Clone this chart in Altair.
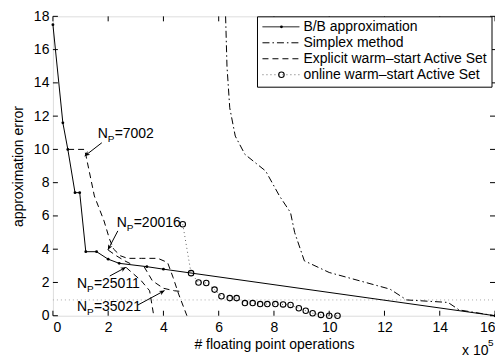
import math
import altair as alt
import pandas as pd

# ---------------- data ----------------
x_ticks = [0, 2, 4, 6, 8, 10, 12, 14, 16]
y_ticks = [0, 2, 4, 6, 8, 10, 12, 14, 16, 18]

series_names = [
    "B/B approximation",
    "Simplex method",
    "Explicit warm\u2013start Active Set",
    "online warm\u2013start Active Set",
]

bb_x = [0.0, 0.36, 0.54, 0.8, 0.97, 1.19, 1.58, 2.0, 2.4, 3.4, 4.0, 16.0]
bb_y = [17.5, 11.6, 10.0, 7.4, 7.4, 3.85, 3.85, 3.4, 3.15, 2.95, 2.8, 0.0]

simplex_x = [6.25, 6.3, 6.4, 6.6, 6.95, 7.7, 8.2, 8.6, 8.75, 9.1, 10.0, 11.1, 12.2, 12.8, 14.3, 14.7, 16.0]
simplex_y = [18.0, 15.0, 12.5, 10.8, 9.7, 8.7, 7.2, 6.2, 5.0, 3.3, 2.6, 2.1, 1.6, 0.95, 0.8, 0.35, 0.0]

exp_a_x = [0.55, 1.15, 1.5, 1.85, 2.05, 2.2, 2.45, 2.7, 3.2, 3.8, 4.15, 4.35, 4.55, 4.85]
exp_a_y = [10.0, 10.0, 7.2, 5.7, 4.6, 4.0, 3.6, 3.45, 3.45, 3.45, 3.2, 2.3, 1.3, 0.0]
exp_b_x = [2.0, 2.3, 2.6, 2.9]
exp_b_y = [3.95, 3.6, 3.3, 3.05]
exp_c_x = [2.65, 3.2, 3.5, 3.6, 3.65]
exp_c_y = [2.9, 2.1, 1.5, 0.5, 0.0]
exp_d_x = [3.3, 3.6, 4.0, 4.4, 4.7]
exp_d_y = [2.95, 2.1, 1.65, 1.5, 1.45]

online_x = [4.7, 5.0, 5.27, 5.55, 5.85, 6.1, 6.4, 6.65, 6.95, 7.23, 7.5, 7.76, 8.05, 8.33,
            8.6, 8.9, 9.15, 9.4, 9.7, 10.0, 10.3]
online_y = [5.5, 2.56, 2.0, 1.97, 1.57, 1.17, 1.06, 1.06, 0.76, 0.76, 0.7, 0.7, 0.7, 0.68,
            0.65, 0.45, 0.3, 0.15, 0.05, 0.0, 0.0]

threshold = 0.95

np_labels = ["=7002", "=20016", "=25011", "=35021"]
np_label_x = [1.62, 2.31, 0.87, 0.87]
np_label_y = [10.9, 5.6, 1.93, 0.53]
arrow_tail_x = [1.77, 2.35, 2.06, 3.07]
arrow_tail_y = [10.4, 5.1, 2.39, 0.64]
arrow_tip_x = [1.15, 1.99, 2.64, 4.04]
arrow_tip_y = [9.6, 3.96, 2.91, 1.51]

# ---------------- layout ----------------
W, H = 443, 300
PAD_TOP = 8
X_MAX, Y_MAX = 16, 18
SX = W / X_MAX
SY = H / Y_MAX
FONT = "Liberation Sans"
FS = 14

xs = alt.Scale(domain=[0, X_MAX], nice=False, zero=False)
ys = alt.Scale(domain=[0, Y_MAX], nice=False, zero=False)

x_axis = alt.Axis(
    values=x_ticks, title="# floating point operations", format="d",
    tickSize=0, domain=False, grid=False, labelPadding=5, titlePadding=3,
    labelFont=FONT, labelFontSize=FS, titleFont=FONT, titleFontSize=FS,
    titleFontWeight="normal", labelColor="black", titleColor="black")
y_axis = alt.Axis(
    values=y_ticks, title="approximation error", format="d",
    tickSize=0, domain=False, grid=False, labelPadding=4, titlePadding=8,
    labelFont=FONT, labelFontSize=FS, titleFont=FONT, titleFontSize=FS,
    titleFontWeight="normal", labelColor="black", titleColor="black")


def X(f="x"):
    return alt.X(f"{f}:Q", scale=xs, axis=x_axis)


def Y(f="y"):
    return alt.Y(f"{f}:Q", scale=ys, axis=y_axis)


one = pd.DataFrame({"a": [0]})
layers = []

# inward ticks
tick_lx = 5 / SX
tick_ly = 5 / SY
bt = pd.DataFrame({"x": x_ticks, "y": 0.0, "y2": tick_ly})
layers.append(alt.Chart(bt).mark_rule(color="black").encode(x=X(), y=Y(), y2="y2:Q"))
tt = pd.DataFrame({"x": x_ticks, "y": float(Y_MAX), "y2": Y_MAX - tick_ly})
layers.append(alt.Chart(tt).mark_rule(color="black").encode(x=X(), y=Y(), y2="y2:Q"))
lt = pd.DataFrame({"y": y_ticks, "x": 0.0, "x2": tick_lx})
layers.append(alt.Chart(lt).mark_rule(color="black").encode(y=Y(), x=X(), x2="x2:Q"))
rt = pd.DataFrame({"y": y_ticks, "x": float(X_MAX), "x2": X_MAX - tick_lx})
layers.append(alt.Chart(rt).mark_rule(color="black").encode(y=Y(), x=X(), x2="x2:Q"))

# threshold dotted line
thr = pd.DataFrame({"x": [0.0], "x2": [float(X_MAX)], "y": [threshold]})
layers.append(alt.Chart(thr).mark_rule(color="#aaaaaa", strokeDash=[1, 3], strokeWidth=1).encode(
    x=X(), x2="x2:Q", y=Y()))

# B/B approximation
bb = pd.DataFrame({"x": bb_x, "y": bb_y, "i": range(len(bb_x))})
layers.append(alt.Chart(bb).mark_line(color="black", strokeWidth=1).encode(
    x=X(), y=Y(), order="i:Q"))
layers.append(alt.Chart(bb).mark_point(filled=True, color="black", size=8, opacity=1).encode(
    x=X(), y=Y()))

# Simplex
sp = pd.DataFrame({"x": simplex_x, "y": simplex_y, "i": range(len(simplex_x))})
layers.append(alt.Chart(sp).mark_line(color="black", strokeWidth=1, strokeDash=[7, 3, 1.5, 3]).encode(
    x=X(), y=Y(), order="i:Q"))

# Explicit warm-start
rows = []
for cid, (cx, cy) in enumerate([(exp_a_x, exp_a_y), (exp_b_x, exp_b_y),
                                 (exp_c_x, exp_c_y), (exp_d_x, exp_d_y)]):
    for i, (a, b) in enumerate(zip(cx, cy)):
        rows.append({"x": a, "y": b, "c": cid, "i": i})
ex = pd.DataFrame(rows)
layers.append(alt.Chart(ex).mark_line(color="black", strokeWidth=1, strokeDash=[6, 4]).encode(
    x=X(), y=Y(), detail="c:N", order="i:Q"))

# online warm-start
on = pd.DataFrame({"x": online_x, "y": online_y, "i": range(len(online_x))})
layers.append(alt.Chart(on).mark_line(color="#666666", strokeWidth=1, strokeDash=[1, 3]).encode(
    x=X(), y=Y(), order="i:Q"))
layers.append(alt.Chart(on).mark_point(shape="circle", color="black", size=30, strokeWidth=1.1,
                                       opacity=1, filled=False).encode(x=X(), y=Y()))

# annotations
ann = pd.DataFrame({
    "lx": np_label_x, "ly": np_label_y, "t": np_labels,
    "tx": arrow_tail_x, "ty": arrow_tail_y, "hx": arrow_tip_x, "hy": arrow_tip_y,
})
ann["ang"] = [
    math.degrees(math.atan2(-(hy - ty) * SY, (hx - tx) * SX)) % 360
    for tx, ty, hx, hy in zip(ann.tx, ann.ty, ann.hx, ann.hy)
]
layers.append(alt.Chart(ann).mark_rule(color="black", strokeWidth=1).encode(
    x=X("tx"), y=Y("ty"), x2="hx:Q", y2="hy:Q"))
layers.append(alt.Chart(ann).mark_point(
    shape="M 0 0 L -1 -0.45 L -0.7 0 L -1 0.45 Z", filled=True, color="black", size=110,
    opacity=1, strokeWidth=0.5).encode(
    x=X("hx"), y=Y("hy"), angle=alt.Angle("ang:Q", scale=None)))
layers.append(alt.Chart(ann).mark_text(font=FONT, fontSize=FS, align="left", baseline="middle",
                                       color="black").encode(
    x=X("lx"), y=Y("ly"), text=alt.value("N")))
layers.append(alt.Chart(ann).mark_text(font=FONT, fontSize=10, align="left", baseline="middle",
                                       color="black", dx=10, dy=5).encode(
    x=X("lx"), y=Y("ly"), text=alt.value("P")))
layers.append(alt.Chart(ann).mark_text(font=FONT, fontSize=FS, align="left", baseline="middle",
                                       color="black", dx=17).encode(
    x=X("lx"), y=Y("ly"), text="t:N"))

# x 10^5 multiplier (pixel offsets relative to the plot's top-left corner)
layers.append(alt.Chart(one).mark_text(font=FONT, fontSize=FS, align="left", baseline="middle",
                                       color="black").encode(
    x=alt.value(410), y=alt.value(H + 35), text=alt.value("x 10")))
layers.append(alt.Chart(one).mark_text(font=FONT, fontSize=10, align="left", baseline="middle",
                                       color="black").encode(
    x=alt.value(436), y=alt.value(H + 27), text=alt.value("5")))

# legend (manual box)
LX0, LX1, LY0, LY1 = 205, 440, 0, 71
layers.append(alt.Chart(one).mark_rect(fill="white", stroke="black", strokeWidth=1).encode(
    x=alt.value(LX0), x2=alt.value(LX1), y=alt.value(LY0 + 0.5), y2=alt.value(LY1)))
styles = [
    dict(strokeDash=[1, 0], color="black"),
    dict(strokeDash=[7, 3, 1.5, 3], color="black"),
    dict(strokeDash=[6, 4], color="black"),
    dict(strokeDash=[1, 3], color="#666666"),
]
for k, name in enumerate(series_names):
    yk = 10.5 + 16 * k
    layers.append(alt.Chart(one).mark_rule(strokeWidth=1, **styles[k]).encode(
        x=alt.value(210), x2=alt.value(247), y=alt.value(yk)))
    layers.append(alt.Chart(one).mark_text(font=FONT, fontSize=FS, align="left", baseline="middle",
                                           color="black").encode(
        x=alt.value(251), y=alt.value(yk + 0.5), text=alt.value(name)))
layers.append(alt.Chart(one).mark_point(filled=True, color="black", size=8, opacity=1).encode(
    x=alt.value(229), y=alt.value(10.5)))
layers.append(alt.Chart(one).mark_point(shape="circle", filled=False, color="black", size=30,
                                        opacity=1, strokeWidth=1.1).encode(
    x=alt.value(229), y=alt.value(10.5 + 48)))

chart = alt.layer(*layers).properties(
    width=W, height=H,
    autosize=alt.AutoSizeParams(type="none"),
    padding={"left": 45, "top": PAD_TOP, "right": 0, "bottom": 44},
).configure_view(stroke="black", strokeWidth=1).configure(background="white")

chart.save("out.html", embed_options={"renderer": "svg", "actions": False})
